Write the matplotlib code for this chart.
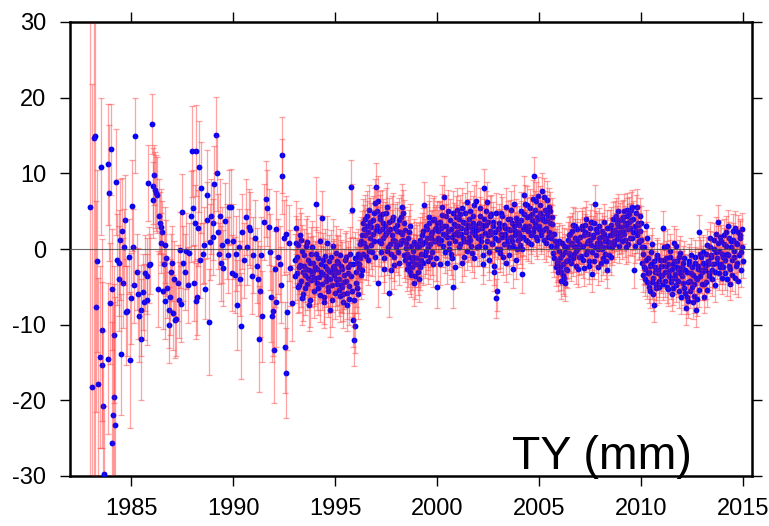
import numpy as np
import matplotlib
matplotlib.use("Agg")
import matplotlib.pyplot as plt

plt.rcParams['font.family'] = ['Liberation Sans', 'DejaVu Sans']
plt.rcParams['axes.unicode_minus'] = False

# ---- sparse early record (1983-1992): epoch, value (mm), 1-sigma (mm)
early_t = [1983.00, 1983.10, 1983.18, 1983.21, 1983.27, 1983.33, 1983.37, 1983.45, 1983.50, 1983.55,
           1983.58, 1983.63, 1983.68, 1983.84, 1983.87, 1983.89, 1983.95, 1984.02, 1984.06, 1984.08,
           1984.12, 1984.16, 1984.18, 1984.22, 1984.27, 1984.30, 1984.38, 1984.42, 1984.45, 1984.52,
           1984.56, 1984.60, 1984.66, 1984.72, 1984.74, 1984.82, 1984.88, 1984.95, 1984.98, 1985.04,
           1985.10, 1985.14, 1985.20, 1985.28, 1985.32, 1985.40, 1985.46, 1985.50, 1985.56, 1985.62,
           1985.70, 1985.76, 1985.80, 1985.83, 1985.88, 1985.94, 1986.01, 1986.05, 1986.08, 1986.13,
           1986.18, 1986.23, 1986.28, 1986.32, 1986.36, 1986.40, 1986.44, 1986.47, 1986.50, 1986.55,
           1986.60, 1986.64, 1986.68, 1986.72, 1986.78, 1986.84, 1986.88, 1986.92, 1986.97, 1987.02,
           1987.07, 1987.12, 1987.17, 1987.22, 1987.28, 1987.35, 1987.40, 1987.45, 1987.51, 1987.56,
           1987.62, 1987.70, 1987.78, 1987.86, 1987.93, 1987.98, 1988.02, 1988.08, 1988.13, 1988.17,
           1988.20, 1988.25, 1988.30, 1988.33, 1988.38, 1988.42, 1988.50, 1988.58, 1988.63, 1988.71,
           1988.74, 1988.82, 1988.88, 1988.94, 1988.99, 1989.03, 1989.07, 1989.15, 1989.20, 1989.25,
           1989.30, 1989.36, 1989.40, 1989.45, 1989.52, 1989.60, 1989.69, 1989.75, 1989.82, 1989.89,
           1989.93, 1990.00, 1990.08, 1990.14, 1990.20, 1990.27, 1990.33, 1990.38, 1990.46, 1990.52,
           1990.62, 1990.70, 1990.78, 1990.85, 1990.92, 1991.00, 1991.08, 1991.15, 1991.22, 1991.27,
           1991.30, 1991.36, 1991.44, 1991.52, 1991.60, 1991.68, 1991.74, 1991.80, 1991.85, 1991.93,
           1991.97, 1992.00, 1992.06, 1992.09, 1992.12, 1992.20, 1992.28, 1992.35, 1992.39, 1992.42,
           1992.48, 1992.55, 1992.58, 1992.61, 1992.66, 1992.72, 1992.80, 1992.88]
early_v = [5.6, -18.2, 14.7, 15.0, -7.6, -1.6, -17.8, -14.3, 10.9, -10.7,
           -15.3, -20.8, -29.8, 11.2, -14.5, 7.4, -7.2, 13.2, -5.3, -25.6,
           -22.0, -19.6, -11.3, -23.3, 8.9, -1.4, -3.9, -1.8, 1.2, -13.9,
           2.4, -4.5, 0.3, 3.8, -8.3, -8.2, -1.0, -14.7, -6.5, 5.7,
           0.3, -4.8, 15.0, -3.0, -5.9, -8.9, -11.9, -8.1, -5.7, -7.0,
           -3.2, -6.7, -3.6, 8.7, -2.1, -2.0, 16.5, 8.3, 6.5, 9.8,
           7.8, 7.4, 7.1, -5.3, 4.3, 3.5, 2.9, 0.8, 2.3, -5.6,
           -2.0, -6.9, 0.5, -1.2, -5.1, -10.0, -8.1, -6.3, -3.0, -1.9,
           -8.4, -3.9, -9.4, -9.2, -4.5, -6.7, -0.1, -7.3, 4.9, -1.9,
           -3.0, -0.3, -4.8, -0.5, 4.3, 12.9, 5.4, -4.5, 3.4, 13.0,
           -6.9, -6.3, 2.8, 10.9, -1.5, 8.1, -0.6, 0.5, -5.3, 7.1,
           3.8, -9.6, 0.9, 4.3, 1.6, 3.5, 8.6, 15.1, 10.0, 2.3,
           -0.6, 4.3, -1.9, 0.5, -2.5, 3.7, 1.0, -0.8, 5.5, 5.6,
           -3.2, 1.0, -3.4, -0.6, -7.4, 0.3, -3.9, -10.2, 2.3, -1.5,
           4.2, 0.3, 2.9, 2.5, -3.6, -0.8, 1.5, -2.2, -3.9, -11.9,
           -5.6, -0.8, -8.9, 3.6, 6.6, 5.4, 2.9, -0.4, -6.3, -8.9,
           -8.2, -13.4, -2.6, -7.0, 2.7, -1.0, -2.0, -4.8, 12.4, 9.6,
           1.5, -13.0, 2.0, -16.4, -8.3, 0.8, -2.5, -7.1]
early_e = [45, 40, 45, 45, 14, 12, 14, 12, 9, 12,
           11, 10, 9, 8, 10, 9, 8, 6, 8, 16,
           15, 15, 9, 17, 7, 6, 7, 7, 8, 8,
           7, 6, 5, 6, 7, 6, 5, 9, 6, 6,
           5, 5, 5, 5, 6, 6, 8, 6, 5, 5,
           5, 6, 5, 5, 5, 4, 4, 5, 5, 4,
           5, 5, 5, 5, 5, 4, 5, 4, 4, 5,
           4, 5, 5, 5, 4, 5, 5, 5, 5, 5,
           5, 5, 5, 5, 5, 5, 5, 5, 5, 5,
           5, 5, 5, 4, 6, 6, 5, 5, 5, 6,
           5, 5, 5, 6, 5, 6, 4, 5, 4, 6,
           5, 7, 5, 5, 5, 5, 5, 5, 5, 5,
           4, 5, 5, 5, 5, 5, 5, 5, 5, 5,
           5, 5, 5, 5, 6, 5, 5, 7, 5, 5,
           5, 5, 5, 5, 5, 5, 5, 5, 5, 7,
           6, 5, 6, 5, 5, 5, 5, 5, 6, 6,
           6, 7, 5, 6, 5, 5, 5, 5, 5, 5,
           5, 6, 5, 6, 5, 5, 5, 5]

# ---- dense record (1993-2014): two interleaved sets of 20 estimates per year
ty_1993 = [-1.5, 2.8, -3.2, 0.5, -4.8, -2.1, 1.2, -6.5, -3.0, -0.8, -5.2, -2.6, 0.9, -3.8, -7.4, -1.9, -4.1, 0.2, -2.9, -5.6]
ty_1994 = [-2.4, 6.0, -4.5, -1.2, -3.7, -6.1, -2.0, 4.1, -3.3, -7.0, -0.9, -4.2, -2.7, -5.5, -1.6, -8.1, -3.0, -4.8, 0.4, -2.2]
ty_1995 = [-2.8, -0.5, -4.6, -1.8, -3.9, -6.2, -2.3, -5.0, -7.0, -4.4, -1.1, -5.8, -3.2, -6.6, -2.0, 8.2, 5.1, -9.4, -12.0, -10.2]
ty_1996 = [-4.5, -1.8, -6.0, -2.5, 0.6, -3.4, 1.8, -0.7, 2.6, 4.0, 0.2, 3.1, -1.5, 5.2, 1.4, 2.9, -0.4, 3.8, 1.0, 6.1]
ty_1997 = [8.2, 5.0, -4.5, 2.4, 3.9, 0.8, 4.6, 1.5, -1.2, 3.0, 2.1, 5.5, 0.3, -5.8, 2.7, -0.6, 1.9, 4.2, -2.1, 1.0]
ty_1998 = [0.5, 3.2, -1.8, 2.2, 1.0, 5.6, 4.8, -0.8, 2.5, 0.1, -2.6, 1.4, -1.0, 3.0, -3.4, -1.6, -0.2, -4.5, -2.0, 0.6]
ty_1999 = [-1.2, -3.1, 0.4, -2.4, -0.6, 1.8, -1.8, 5.8, 0.9, -0.3, 2.6, 0.2, 3.4, -1.0, 1.5, 2.2, -2.0, 4.0, 1.1, 2.8]
ty_2000 = [-5.0, 2.4, 0.8, 3.6, 1.2, 4.5, 2.0, 6.9, -0.4, 3.1, 1.6, 5.0, 0.0, 2.7, -1.2, -5.0, 3.3, 1.0, 4.2, 2.2]
ty_2001 = [1.8, 3.9, 0.6, 2.8, 5.4, 1.5, -1.0, 3.5, 2.2, 6.2, 0.9, 4.0, 1.2, 2.9, -0.5, 3.4, 5.8, 1.9, 2.5, 0.3]
ty_2002 = [2.6, 0.4, 4.3, 1.7, 3.2, -0.8, 8.0, 2.1, 5.0, 1.1, 3.6, -1.5, 2.4, 4.6, 0.7, 3.0, -2.2, 1.5, -6.5, -5.6]
ty_2003 = [1.2, 3.5, -0.5, 2.0, 4.4, 0.6, 2.8, -1.8, 1.4, 3.9, 0.2, 2.5, 5.2, 1.0, -2.6, 3.0, 1.8, 4.1, 0.0, 2.3]
ty_2004 = [2.0, 0.5, 3.8, -3.3, 1.6, 7.1, 6.0, 2.7, 4.2, 0.9, 3.1, 5.4, 1.8, 4.6, 2.2, 9.6, 3.5, 6.3, 1.2, 4.0]
ty_2005 = [3.0, 5.8, 1.9, 4.4, 2.5, 6.9, 3.7, 0.8, 6.5, 4.1, 2.2, 5.0, 1.4, 3.3, -0.5, 2.0, 0.2, -1.9, -3.0, 1.0]
ty_2006 = [-2.4, -4.2, -0.8, -3.5, 0.4, -4.5, -1.6, -2.8, 1.2, -0.5, 2.0, -1.8, 0.8, 3.2, -0.6, 1.5, -2.2, 2.6, 0.1, -1.0]
ty_2007 = [1.6, -0.9, 3.0, 0.4, -2.5, 2.2, 4.0, -0.3, 1.1, -1.6, 2.8, 0.5, -3.3, 1.9, 3.5, 6.0, -0.8, 2.3, 0.0, 1.4]
ty_2008 = [0.8, -1.9, 2.4, 0.2, 3.6, -0.7, 1.5, -2.8, 0.9, 2.8, -1.1, 1.9, 3.9, 0.6, 2.5, 4.4, 1.3, 3.0, 0.4, 2.2]
ty_2009 = [2.9, 1.0, 4.2, 2.0, 3.4, 0.3, 5.1, 2.6, 4.6, 1.5, 3.8, 5.5, 2.2, -2.8, 3.1, 4.8, 1.8, 3.5, 0.9, 2.4]
ty_2010 = [1.2, -1.8, -3.5, 0.2, -2.6, 3.0, -4.4, -1.2, -3.0, -5.6, -2.0, 0.6, -3.8, -7.4, -2.4, -4.6, -1.0, -3.2, -5.0, -2.2]
ty_2011 = [-3.4, 2.8, -1.5, -4.2, -2.3, 0.4, -5.3, -2.9, -1.0, -3.8, -6.0, -2.0, 0.8, -3.3, -4.8, -1.6, -2.6, -5.6, -0.5, -3.0]
ty_2012 = [-2.4, -4.5, -1.2, -5.8, -7.8, -3.0, -6.9, -2.0, -4.2, -0.8, -5.0, -3.4, -6.2, -1.9, -8.1, -4.0, -2.6, 2.3, -3.6, -1.0]
ty_2013 = [-3.0, -0.4, -6.3, -2.2, -4.4, 0.5, -1.6, -3.6, 1.4, -0.8, -2.8, 0.0, -4.8, 2.0, -1.2, 3.6, -0.2, -2.4, 1.0, -3.8]
ty_2014 = [-1.0, 1.8, -3.2, 0.4, -0.6, 3.0, -2.2, -4.6, 1.0, -1.5, 2.4, -0.2, -3.8, 0.8, -1.8, 2.3, -0.8, 1.5, -2.8, 0.2]

ty_1993b = [-3.6, 0.8, -1.0, -5.0, -2.4, 1.9, -4.2, -0.3, -6.0, -2.2, -3.5, 0.4, -4.6, -1.4, -2.8, -6.8, -0.6, -3.3, -1.8, -4.0]
ty_1994b = [-3.8, -0.6, -2.6, -5.2, 1.0, -3.1, -4.6, -1.4, -6.4, -2.2, -3.6, 0.8, -5.0, -2.9, -4.0, -1.0, -6.8, -2.4, -3.4, -5.8]
ty_1995b = [-4.0, -1.6, -3.0, -5.4, -0.8, -4.8, -2.6, -6.0, -3.5, -1.4, -4.2, -7.4, -2.4, -4.9, -0.6, -3.6, -5.5, -2.0, -6.8, -1.2]
ty_1996b = [-3.0, -5.2, -0.6, -2.0, -1.2, 1.0, -2.8, 3.4, 0.8, 1.9, -0.9, 4.4, 2.2, -0.2, 3.6, 0.5, 2.0, 4.8, -1.0, 2.5]
ty_1997b = [3.0, 6.4, 1.0, 4.4, -0.4, 2.6, 3.4, -2.6, 1.8, 4.8, -0.2, 2.4, 3.6, 0.6, -2.8, 3.8, 1.2, -1.0, 2.8, 0.2]
ty_1998b = [2.4, -0.4, 3.8, 0.6, 4.2, 2.0, 1.2, 3.5, -1.4, 0.8, -0.6, -2.0, 2.2, -3.0, 0.4, -2.4, -1.0, 0.9, -3.6, -1.2]
ty_1999b = [0.2, -2.0, -4.0, 1.2, -1.5, 0.6, 2.4, -0.8, 3.0, 1.4, -1.6, 4.2, 0.6, 2.0, -0.4, 3.8, 1.0, 2.6, -1.2, 3.4]
ty_2000b = [1.5, 3.4, -2.0, 2.8, 5.6, 0.4, 3.0, 1.8, 4.4, -1.8, 2.4, 0.8, 3.8, -0.6, 1.6, 4.8, 2.0, -2.4, 3.0, 5.2]
ty_2001b = [3.0, 0.2, 4.6, 2.0, -1.8, 3.6, 1.0, 4.8, 2.6, -0.2, 3.2, 1.6, 5.0, 0.4, 2.2, 4.4, -1.2, 3.0, 6.4, 1.4]
ty_2002b = [3.4, 5.4, 1.0, 2.8, -2.0, 4.0, 0.2, 3.2, 6.2, 1.8, -0.4, 4.4, 2.0, 0.8, 3.6, -3.0, 2.2, 4.8, 0.0, 2.6]
ty_2003b = [2.8, 0.0, 4.8, 1.6, -1.0, 3.2, 2.0, 5.6, 0.8, 2.6, -0.8, 4.0, 1.6, 3.4, 0.4, 6.0, 2.4, -1.4, 3.6, 1.2]
ty_2004b = [3.2, 1.4, 5.0, 0.0, 2.6, 4.6, 3.0, 1.2, 5.8, 2.4, 4.4, 0.6, 3.8, 6.6, 2.8, 5.2, 1.6, 4.2, 7.0, 2.6]
ty_2005b = [4.8, 2.2, 7.6, 3.8, 1.2, 5.2, 2.8, 4.6, 1.6, 5.6, 3.4, 0.4, 4.2, 2.0, -1.2, 1.0, -2.4, 0.6, -1.6, -0.2]
ty_2006b = [-1.2, -3.0, 0.8, -2.0, -3.8, -0.4, -2.6, 0.2, -1.4, 1.8, -0.8, 0.6, 2.4, -1.2, 0.4, 3.0, -0.2, 1.2, -2.6, 0.6]
ty_2007b = [0.4, 2.6, -1.4, 1.8, 3.2, -0.6, 0.8, 2.0, -2.2, 1.2, 3.6, -0.4, 1.6, -1.6, 0.2, 2.6, 0.8, -2.4, 3.0, 0.2]
ty_2008b = [1.6, 0.0, -1.2, 2.0, 1.0, -1.6, 2.8, 0.4, -0.8, 1.8, 3.2, 0.2, 2.2, 1.0, 4.0, 2.0, 3.4, 5.0, 1.6, 3.8]
ty_2009b = [1.8, 4.0, 2.4, 5.0, 1.2, 3.0, 4.4, 0.6, 3.6, 2.8, 5.2, 1.4, 4.0, 0.4, 2.4, 5.6, 3.2, 1.0, 4.4, 3.4]
ty_2010b = [0.2, -0.6, -2.4, -4.0, -1.4, 1.4, -3.2, -5.0, -2.2, -0.4, -4.4, -6.0, -1.6, -3.0, -5.2, -0.8, -2.8, -4.2, -1.4, -3.6]
ty_2011b = [-2.2, -4.6, 0.2, -3.0, -1.2, -5.0, -2.0, -3.6, -0.2, -4.4, -2.6, -5.2, -1.6, -3.8, 0.4, -2.4, -4.2, -1.0, -3.2, -6.4]
ty_2012b = [-3.6, -1.8, -5.2, -2.8, -6.4, -4.4, -1.6, -5.6, -3.2, -2.4, -7.0, -4.6, -1.0, -3.8, -6.6, -2.2, -5.4, -0.6, -2.8, -4.6]
ty_2013b = [-1.8, -4.6, -2.8, -0.6, -5.4, -2.0, -3.2, 0.2, -1.0, -4.0, -2.0, 1.2, -3.0, -0.4, -1.8, 0.8, -3.2, 1.6, -2.0, -0.6]
ty_2014b = [-2.4, 0.6, -1.4, 2.2, -4.0, -0.8, 1.4, -2.6, 0.2, -3.4, 1.2, -1.0, 2.8, -2.2, 0.6, -4.2, 1.8, -0.4, 2.6, -1.6]

dense_years = list(range(1993, 2015))
dense_a = [ty_1993, ty_1994, ty_1995, ty_1996, ty_1997, ty_1998, ty_1999, ty_2000,
           ty_2001, ty_2002, ty_2003, ty_2004, ty_2005, ty_2006, ty_2007, ty_2008,
           ty_2009, ty_2010, ty_2011, ty_2012, ty_2013, ty_2014]
dense_b = [ty_1993b, ty_1994b, ty_1995b, ty_1996b, ty_1997b, ty_1998b, ty_1999b, ty_2000b,
           ty_2001b, ty_2002b, ty_2003b, ty_2004b, ty_2005b, ty_2006b, ty_2007b, ty_2008b,
           ty_2009b, ty_2010b, ty_2011b, ty_2012b, ty_2013b, ty_2014b]
dense_err = [3.5, 3.5, 3.5, 3.2, 3.2, 3.0, 3.0, 2.8, 2.6, 2.6, 2.5,
             2.5, 2.5, 2.4, 2.4, 2.3, 2.3, 2.2, 2.2, 2.2, 2.2, 2.2]

t = list(early_t)
v = list(early_v)
e = list(early_e)
for yr, va, vb, err in zip(dense_years, dense_a, dense_b, dense_err):
    n = len(va)
    for i in range(n):
        t += [yr + (i + 0.25) / n, yr + (i + 0.75) / n]
        v += [va[i], vb[i]]
        e += [err, err]
t = np.array(t)
v = np.array(v)
e = np.array(e)

fig = plt.figure(figsize=(7.69, 5.26), dpi=100)
ax = fig.add_axes([70 / 769, 50 / 526, 682 / 769, 454 / 526])

ax.errorbar(t, v, yerr=e, fmt='none', ecolor='#ff4040', alpha=0.4,
            elinewidth=0.9, capsize=2.5, capthick=0.9, zorder=2)
ax.plot(t, v, 'o', color='blue', ms=4.2, mew=0, zorder=3)
ax.errorbar(t, v, yerr=e, fmt='none', ecolor='#ff4040', alpha=0.12,
            elinewidth=0.9, capsize=2.5, capthick=0.9, zorder=4)
ax.axhline(0, color='#444444', lw=0.8, alpha=0.8, zorder=5)

ax.set_xlim(1982.0, 2015.45)
ax.set_ylim(-30, 30)
ax.set_xticks([1985, 1990, 1995, 2000, 2005, 2010, 2015])
ax.set_yticks([-30, -20, -10, 0, 10, 20, 30])
ax.tick_params(direction='out', length=7, width=1, labelsize=17,
               top=True, right=True, labeltop=False, labelright=False)
ax.tick_params(axis='x', pad=9)
ax.tick_params(axis='y', pad=10)
for s in ax.spines.values():
    s.set_linewidth(1.8)

ax.text(0.912, 0.015, 'TY (mm)', transform=ax.transAxes, ha='right',
        va='baseline', fontsize=33.5)

fig.savefig('out.png', dpi=100)
